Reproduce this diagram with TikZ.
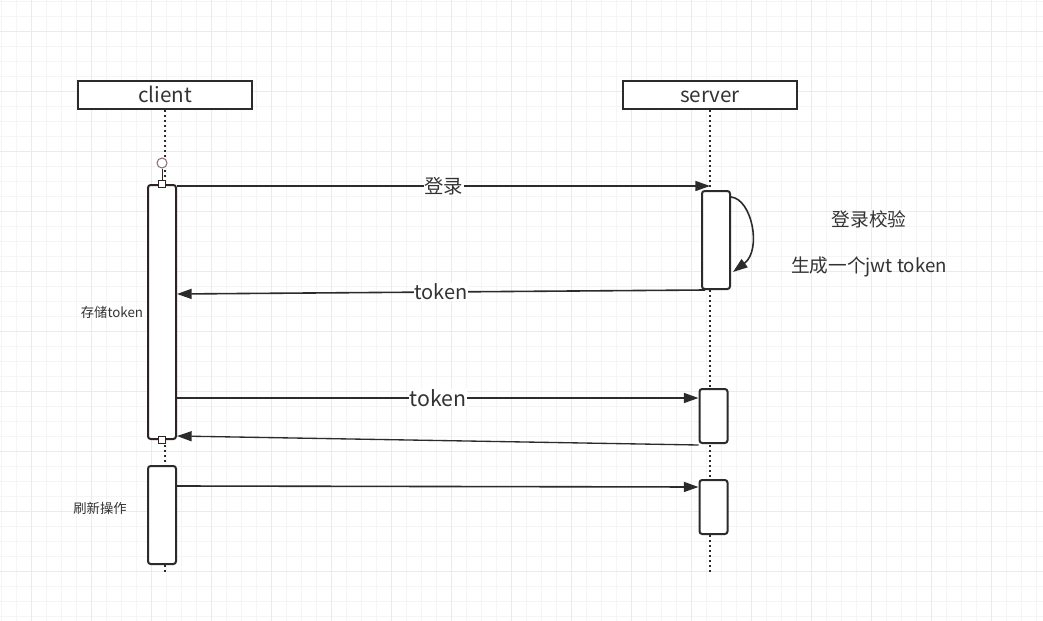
\documentclass[tikz,border=0pt]{standalone}
\usepackage{fontspec}
\setmainfont{Noto Sans CJK SC}
\usetikzlibrary{arrows.meta, positioning, calc}

\definecolor{inkgray}{HTML}{2B2B2B}
\definecolor{textgray}{HTML}{333333}
\definecolor{framebrown}{HTML}{2E2222}
\definecolor{markbrown}{HTML}{8A6A6A}

\begin{document}
\begin{tikzpicture}[x=0.75pt, y=-0.75pt,
    minorgrid/.style={draw=black!4, line width=0.5pt},
    majorgrid/.style={draw=black!8, line width=0.6pt},
    headbox/.style={draw=inkgray, line width=1.5pt, fill=white, minimum width=130.5pt,
        minimum height=21pt, inner sep=0pt, text height=12.5pt, text depth=1.5pt,
        text=textgray, font=\fontsize{15.5}{18}\selectfont},
    lifeline/.style={inkgray, line width=1.5pt, dash pattern=on 1.5pt off 2.25pt},
    actbox/.style={draw=inkgray, line width=1.5pt, fill=white, rounded corners=2pt,
        minimum width=21pt, inner sep=0pt},
    msg/.style={inkgray, line width=1.2pt, -{Triangle[length=11pt, width=7.5pt]}},
    lbl/.style={fill=white, inner sep=0.5pt, text=textgray},
    note/.style={text=textgray, inner sep=0pt}]

    \useasboundingbox (0,0) rectangle (1043,621);
    \fill[white] (0,0) rectangle (1043,621);
    % grid
    \foreach \gx in {1.7,16.7,...,1043} {
        \draw[minorgrid] (\gx,0) -- (\gx,621);
    }
    \foreach \gy in {1.7,16.7,...,621} {
        \draw[minorgrid] (0,\gy) -- (1043,\gy);
    }
    \foreach \gx in {31.7,91.7,...,1043} {
        \draw[majorgrid] (\gx,0) -- (\gx,621);
    }
    \foreach \gy in {31.7,91.7,...,621} {
        \draw[majorgrid] (0,\gy) -- (1043,\gy);
    }

    % heads and lifelines
    \node[headbox] (client) at (165,95) {client};
    \node[headbox] (server) at (710,95) {server};
    \coordinate (clientend) at (165,572);
    \coordinate (serverend) at (710,572);
    \draw[lifeline] (client.south) -- (clientend);
    \draw[lifeline] (server.south) -- (serverend);

    % activations
    \node[actbox, draw=framebrown, minimum height=190.5pt] (ca1) at (162,312) {};
    \node[actbox, minimum height=73.5pt] (ca2) at (162,515) {};
    \node[actbox, minimum height=73.5pt] (sa1) at (716,240) {};
    \node[actbox, minimum height=40.5pt] (sa2) at (713.5,416) {};
    \node[actbox, minimum height=40.5pt] (sa3) at (713.5,507) {};

    % start marks
    \node[circle, draw=markbrown, fill=white, line width=0.75pt, minimum size=7.5pt, inner sep=0pt] (start) at (162,163) {};
    \draw[framebrown, line width=0.75pt] (start) -- (ca1.north);
    \node[draw=framebrown, fill=white, line width=0.75pt, minimum size=5pt, inner sep=0pt] (topmark) at (ca1.north) {};
    \node[draw=framebrown, fill=white, line width=0.75pt, minimum size=5pt, inner sep=0pt] (botmark) at (ca1.south) {};

    % messages
    \draw[msg] (ca1.east |- 0,186) -- node[lbl, font=\fontsize{14.5}{17}\selectfont] {登录} (server.south |- 0,186);
    \draw[msg] ([yshift=-5.25pt]sa1.north east) .. controls (752,199) and (762,250) .. ([xshift=1.5pt, yshift=13.5pt]sa1.south east);
    \draw[msg] ([xshift=3pt]sa1.south west) -- node[lbl, font=\fontsize{15}{18}\selectfont] {token} (ca1.east |- 0,294);
    \draw[msg] (ca1.east |- 0,398) -- node[lbl, font=\fontsize{16}{19}\selectfont] {token} (sa2.west |- 0,398);
    \draw[msg, line width=1pt] ([yshift=-0.75pt]sa2.south west) -- ([yshift=3pt]ca1.south east);
    \draw[msg] (ca2.east |- 0,486) -- (sa3.west |- 0,487);

    % notes
    \node[note, font=\fontsize{14}{17}\selectfont] (check) at (869,219) {登录校验};
    \node[note, font=\fontsize{14}{17}\selectfont] (issue) at (869,267) {生成一个jwt token};
    \node[note, font=\fontsize{10}{12}\selectfont] (store) at (112,312) {存储token};
    \node[note, font=\fontsize{10}{12}\selectfont] (refresh) at (100,508) {刷新操作};
\end{tikzpicture}
\end{document}
